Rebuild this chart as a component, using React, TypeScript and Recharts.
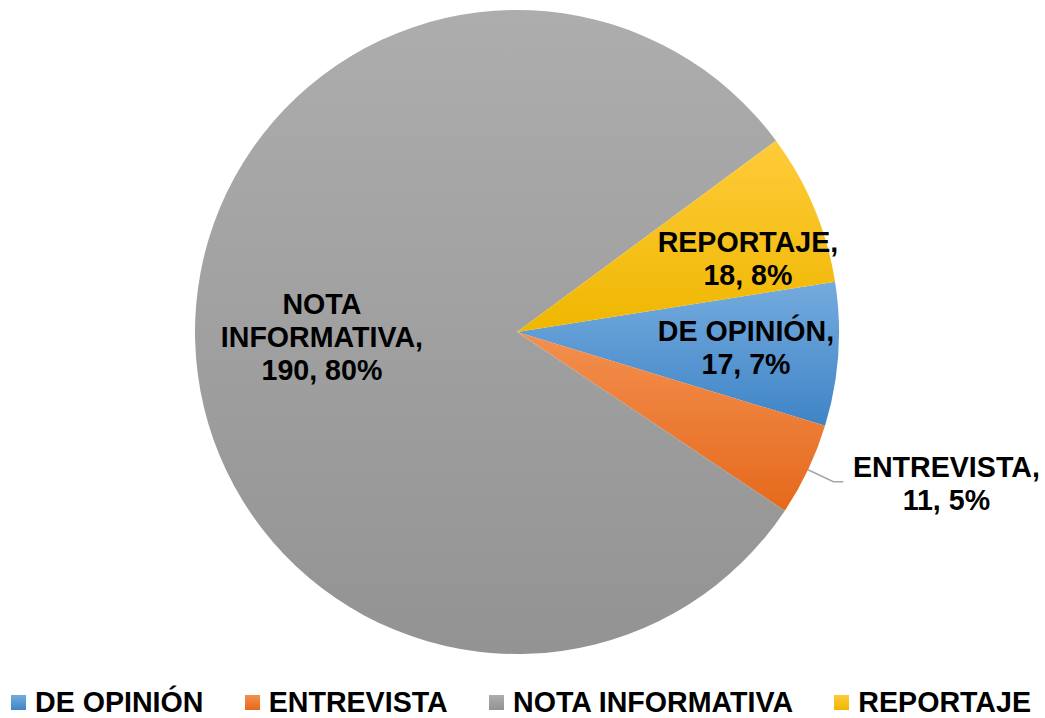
import React from 'react';
import { PieChart, Pie, Cell, Legend } from 'recharts';

const categories = ['DE OPINIÓN', 'ENTREVISTA', 'NOTA INFORMATIVA', 'REPORTAJE'];
const values = [17, 11, 190, 18];
const percentLabels = ['7%', '5%', '80%', '8%'];

const gradients = [
  { id: 'gBlue', top: '#74abde', bottom: '#3f84c6' },
  { id: 'gOrange', top: '#f3904f', bottom: '#e5691c' },
  { id: 'gGray', top: '#adadad', bottom: '#939393' },
  { id: 'gYellow', top: '#ffcb3a', bottom: '#efb700' },
];

// label placement (style config): radius fraction & angle shift, or outside
const labelLayout: Record<string, { r?: number; shift?: number; outside?: boolean }> = {
  'DE OPINIÓN': { r: 0.713, shift: 0 },
  'ENTREVISTA': { outside: true },
  'NOTA INFORMATIVA': { r: 0.606, shift: 0 },
  'REPORTAJE': { r: 0.753, shift: -5 },
};

const data = categories.map((name, i) => ({ name, value: values[i], pct: percentLabels[i] }));

const FONT = '"Liberation Sans", Arial, sans-serif';
const RAD = Math.PI / 180;
const LINE_H = 33;
const LABEL_SIZE = 28.6;
const LEGEND_SIZE = 28.6;

function buildLines(name: string, value: number, pct: string): string[] {
  if (name.length > 12 && name.includes(' ')) {
    const parts = name.split(' ');
    const last = parts.pop();
    return [...parts, `${last},`, `${value}, ${pct}`];
  }
  return [`${name},`, `${value}, ${pct}`];
}

const renderLabel = (props: any) => {
  const { cx, cy, midAngle, outerRadius, index } = props;
  const d = data[index];
  const layout = labelLayout[d.name] || { r: 0.7, shift: 0 };
  const lines = buildLines(d.name, d.value, d.pct);
  let x: number;
  let yc: number;
  let leader: React.ReactNode = null;
  if (layout.outside) {
    const cos = Math.cos(-midAngle * RAD);
    const sin = Math.sin(-midAngle * RAD);
    const sx = cx + outerRadius * cos;
    const sy = cy + outerRadius * sin;
    const bx = cx + (outerRadius + 28) * cos;
    const by = cy + (outerRadius + 28) * sin;
    const ex = bx + 10;
    leader = (
      <polyline
        points={`${sx},${sy} ${bx},${by} ${ex},${by}`}
        fill="none"
        stroke="#a6a6a6"
        strokeWidth={1.5}
      />
    );
    x = ex + 103;
    yc = by + 1.5;
  } else {
    const ang = midAngle + (layout.shift || 0);
    const r = outerRadius * (layout.r || 0.7);
    x = cx + r * Math.cos(-ang * RAD);
    yc = cy + r * Math.sin(-ang * RAD);
  }
  const firstBaseline = yc - ((lines.length - 1) * LINE_H) / 2 + 10;
  return (
    <g key={`lbl-${index}`}>
      {leader}
      <text
        x={x}
        y={firstBaseline}
        textAnchor="middle"
        fontFamily={FONT}
        fontWeight="bold"
        fontSize={LABEL_SIZE}
        fill="#000"
      >
        {lines.map((ln, i) => (
          <tspan key={i} x={x} y={firstBaseline + i * LINE_H}>
            {ln}
          </tspan>
        ))}
      </text>
    </g>
  );
};

const renderLegend = () => (
  <div
    style={{
      display: 'flex',
      justifyContent: 'space-between',
      alignItems: 'center',
      marginLeft: 11,
      width: 1020,
    }}
  >
    {categories.map((name, i) => (
      <div key={name} style={{ display: 'flex', alignItems: 'center' }}>
        <span
          style={{
            display: 'inline-block',
            width: 15,
            height: 15,
            marginRight: 9,
            background: `linear-gradient(${gradients[i].top}, ${gradients[i].bottom})`,
          }}
        />
        <span
          style={{
            fontFamily: FONT,
            fontWeight: 'bold',
            fontSize: LEGEND_SIZE,
            lineHeight: '28px',
            color: '#000',
            whiteSpace: 'nowrap',
          }}
        >
          {name}
        </span>
      </div>
    ))}
  </div>
);

export default function App() {
  return (
    <div style={{ position: 'absolute', left: 0, top: 0, width: 1045, height: 718, background: '#fff' }}>
      <PieChart width={1045} height={718} margin={{ top: 0, right: 0, bottom: 0, left: 0 }}>
        <defs>
          {gradients.map((g) => (
            <linearGradient key={g.id} id={g.id} x1="0" y1="0" x2="0" y2="1">
              <stop offset="0%" stopColor={g.top} />
              <stop offset="100%" stopColor={g.bottom} />
            </linearGradient>
          ))}
        </defs>
        <Pie
          data={data}
          dataKey="value"
          nameKey="name"
          cx={517}
          cy={332}
          outerRadius={322}
          innerRadius={0}
          startAngle={9}
          endAngle={-351}
          stroke="none"
          isAnimationActive={false}
          labelLine={false}
          label={renderLabel}
        >
          {data.map((d, i) => (
            <Cell key={d.name} fill={`url(#${gradients[i].id})`} stroke="none" />
          ))}
        </Pie>
        <Legend
          content={renderLegend}
          wrapperStyle={{ position: 'absolute', left: 0, top: 688, width: 1045, bottom: 'auto' }}
        />
      </PieChart>
    </div>
  );
}
